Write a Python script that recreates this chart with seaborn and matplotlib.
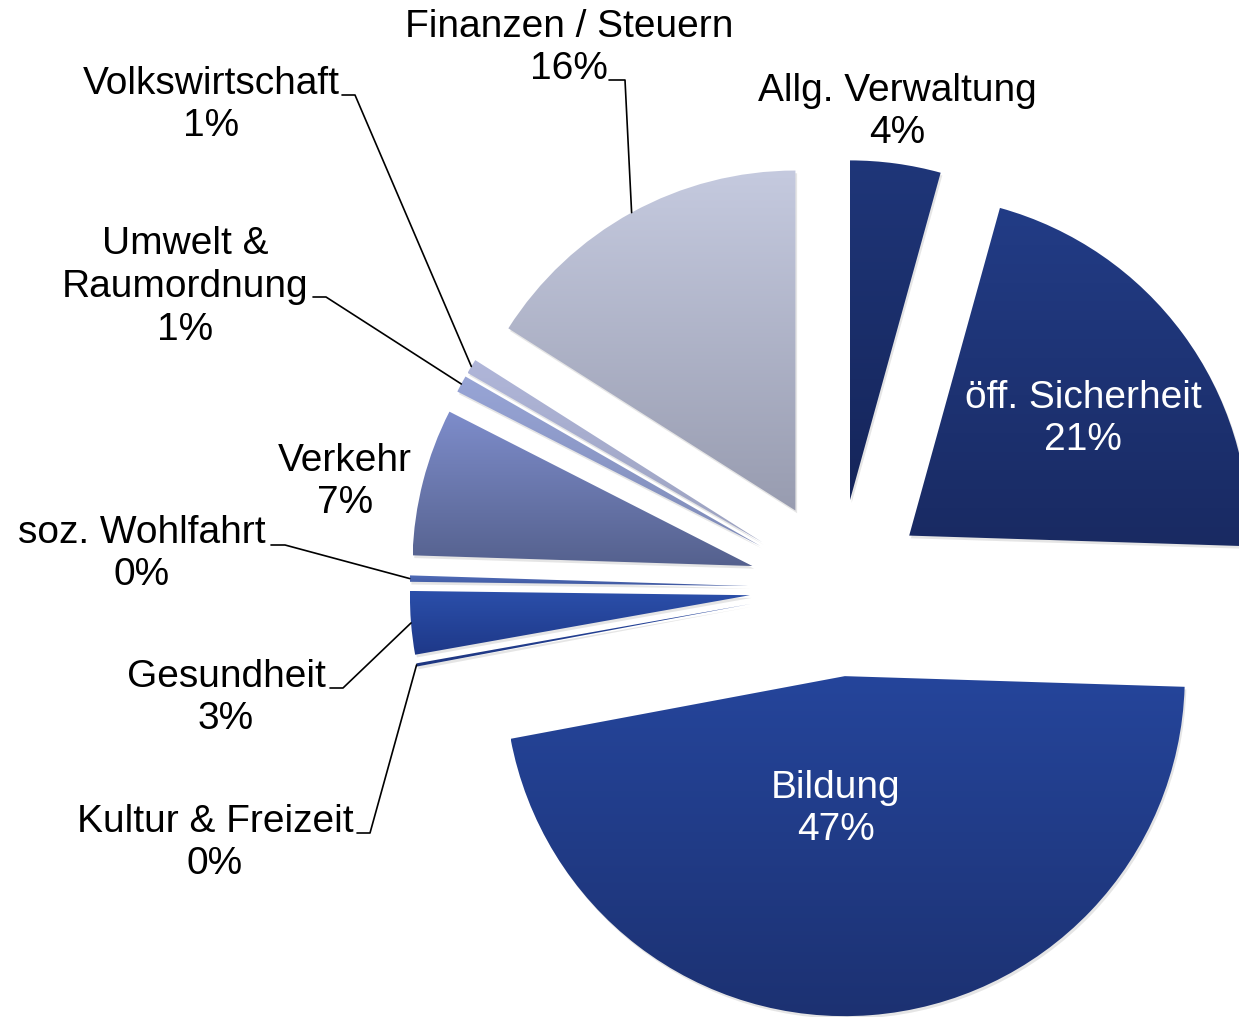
import numpy as np
import matplotlib.pyplot as plt
import seaborn as sns
from matplotlib.colors import LinearSegmentedColormap
from matplotlib.patches import Wedge

sns.set_theme(style="white")
plt.rcParams['font.family'] = ['Liberation Sans', 'DejaVu Sans']

# data, clockwise from 12 o'clock
categories = ["Allg. Verwaltung", "öff. Sicherheit", "Bildung", "Kultur & Freizeit",
              "Gesundheit", "soz. Wohlfahrt", "Verkehr", "Umwelt &\nRaumordnung",
              "Volkswirtschaft", "Finanzen / Steuern"]
shares = [4.3, 21.2, 46.55, 0.15, 3.0, 0.3, 7.0, 0.8, 0.7, 16.0]
pct_labels = ["4%", "21%", "47%", "0%", "3%", "0%", "7%", "1%", "1%", "16%"]
top_colors = ["#1f3679", "#223c86", "#25459b", "#2747a0", "#2b4faa",
              "#506cb8", "#7e8dcb", "#98a5d6", "#b0b6d9", "#c5cadf"]
bottom_colors = ["#15255a", "#192a62", "#1c3171", "#1e3680", "#1e3888",
                 "#3f58a0", "#55618e", "#7f8bb8", "#9ca2c0", "#989cb0"]

# layout: pie center / radius in pixels of the 1239x1017 canvas
CX, CY, R = 838, 588, 340
W, H = 1239, 1017


def px(x, y):
    return (x - CX) / R, (CY - y) / R


# label centres (pixels), inside flag, leader elbow (pixels) or None
label_pos = [(897, 112), (1083, 419), (836, 809), (215, 843), (226, 698),
             (142, 554), (345, 482), (185, 287), (211, 105), (569, 48)]
inside = [False, True, True, False, False, False, False, False, False, False]
elbows = [None, None, None, [(357, 833), (370, 833)], [(330, 688), (343, 688)],
          [(271, 545), (285, 545)], None, [(313, 297), (326, 297)],
          [(342, 95), (355, 95)], [(609, 80), (625, 80)]]

fig = plt.figure(figsize=(W / 100, H / 100), dpi=100)
ax = fig.add_axes([0, 0, 1, 1])

wedges, _ = ax.pie(shares, startangle=90, counterclock=False, radius=1,
                   explode=[0.26] * len(shares),
                   wedgeprops=dict(linewidth=0))

grad = np.linspace(0, 1, 256).reshape(-1, 1)
for w, top, bot in zip(wedges, top_colors, bottom_colors):
    w.set_facecolor("none")
    verts = w.get_path().vertices
    x0, y0 = verts.min(axis=0)
    x1, y1 = verts.max(axis=0)
    # soft drop shadow
    sh = Wedge((w.center[0] + 0.005, w.center[1] - 0.008), w.r, w.theta1, w.theta2,
               facecolor="#555555", alpha=0.15, linewidth=0, zorder=1)
    ax.add_patch(sh)
    cmap = LinearSegmentedColormap.from_list("g", [bot, top])
    im = ax.imshow(grad, cmap=cmap, origin="lower", aspect="auto",
                   extent=(x0, x1, y0, y1), zorder=2, interpolation="bilinear")
    im.set_clip_path(w)

for w, cat, pct, pos, ins, elb in zip(wedges, categories, pct_labels,
                                      label_pos, inside, elbows):
    tx, ty = px(*pos)
    ax.text(tx, ty, f"{cat}\n{pct}", ha="center", va="center",
            multialignment="center", fontsize=28, linespacing=1.24,
            color="white" if ins else "black", zorder=5)
    if elb is not None:
        mid = np.deg2rad((w.theta1 + w.theta2) / 2)
        rx = w.center[0] + w.r * np.cos(mid)
        ry = w.center[1] + w.r * np.sin(mid)
        pts = [px(*p) for p in elb] + [(rx, ry)]
        xs, ys = zip(*pts)
        ax.plot(xs, ys, color="black", linewidth=1.2, zorder=4)

ax.set_xlim(-CX / R, (W - CX) / R)
ax.set_ylim((CY - H) / R, CY / R)
ax.set_aspect("equal")
ax.axis("off")

fig.savefig("out.png", dpi=100)
